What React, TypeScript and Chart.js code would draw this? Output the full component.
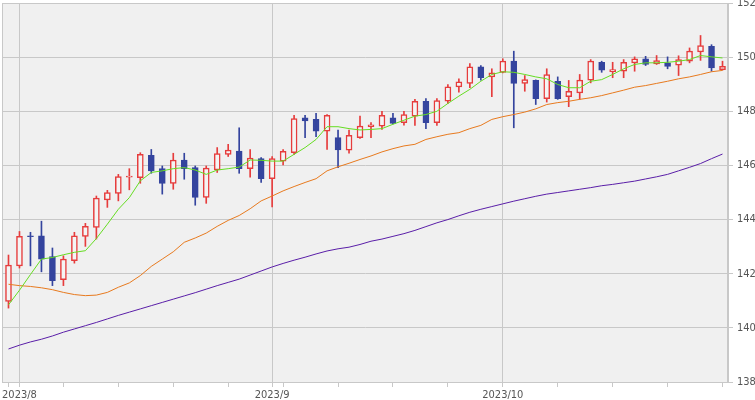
import React, { useEffect, useRef } from "react";
import Chart from "chart.js/auto";

// trading days, 2023/7/31 - 2023/10/30
const dates: string[] = [
  "2023-07-31",
  "2023-08-01", "2023-08-02", "2023-08-03", "2023-08-04",
  "2023-08-07", "2023-08-08", "2023-08-09", "2023-08-10", "2023-08-11",
  "2023-08-14", "2023-08-15", "2023-08-16", "2023-08-17", "2023-08-18",
  "2023-08-21", "2023-08-22", "2023-08-23", "2023-08-24", "2023-08-25",
  "2023-08-28", "2023-08-29", "2023-08-30", "2023-08-31",
  "2023-09-01",
  "2023-09-04", "2023-09-05", "2023-09-06", "2023-09-07", "2023-09-08",
  "2023-09-11", "2023-09-12", "2023-09-13", "2023-09-14", "2023-09-15",
  "2023-09-18", "2023-09-19", "2023-09-20", "2023-09-21", "2023-09-22",
  "2023-09-25", "2023-09-26", "2023-09-27", "2023-09-28", "2023-09-29",
  "2023-10-02", "2023-10-03", "2023-10-04", "2023-10-05", "2023-10-06",
  "2023-10-09", "2023-10-10", "2023-10-11", "2023-10-12", "2023-10-13",
  "2023-10-16", "2023-10-17", "2023-10-18", "2023-10-19", "2023-10-20",
  "2023-10-23", "2023-10-24", "2023-10-25", "2023-10-26", "2023-10-27",
  "2023-10-30",
];

const opens: number[] = [
  140.98, 142.29, 143.40, 143.40, 142.63, 141.78, 142.48, 143.38, 143.71, 144.73,
  144.97, 145.57, 145.55, 146.37, 145.88, 145.34, 146.20, 145.92, 144.82, 145.83,
  146.41, 146.53, 145.88, 146.25, 145.51, 146.16, 146.47, 147.76, 147.70, 147.27,
  147.03, 146.56, 147.03, 147.43, 147.45, 147.76, 147.58, 147.82, 148.37, 147.58,
  148.37, 148.90, 149.03, 149.64, 149.27, 149.44, 149.85, 149.03, 149.14, 148.47,
  149.11, 148.54, 148.68, 149.15, 149.81, 149.46, 149.48, 149.79, 149.94, 149.75,
  149.79, 149.70, 149.85, 150.19, 150.40, 149.54,
];
const highs: number[] = [
  142.69, 143.56, 143.53, 143.94, 142.95, 142.66, 143.53, 143.86, 144.87, 145.08,
  145.67, 145.88, 146.47, 146.59, 145.98, 146.45, 146.45, 145.98, 145.98, 146.66,
  146.78, 147.39, 146.59, 146.29, 146.33, 146.59, 147.85, 147.85, 147.92, 147.88,
  147.31, 147.31, 147.82, 147.58, 148.00, 147.92, 148.00, 148.44, 148.47, 148.47,
  148.99, 149.20, 149.76, 149.69, 149.57, 149.94, 150.22, 149.32, 149.16, 149.57,
  149.27, 149.14, 149.36, 149.91, 149.85, 149.81, 149.91, 150.01, 150.03, 150.06,
  150.01, 150.05, 150.34, 150.80, 150.46, 149.85,
];
const lows: number[] = [
  140.73, 142.21, 142.29, 142.07, 141.56, 141.56, 142.39, 143.01, 143.28, 144.45,
  144.69, 145.10, 145.34, 145.71, 144.94, 145.12, 145.49, 144.53, 144.60, 145.74,
  146.33, 145.71, 145.57, 145.37, 144.47, 146.02, 146.41, 147.03, 147.06, 146.59,
  145.92, 146.45, 147.00, 147.03, 147.33, 147.53, 147.49, 147.48, 147.36, 147.48,
  148.29, 148.71, 148.87, 149.15, 148.54, 149.42, 147.39, 148.74, 148.25, 148.34,
  148.44, 148.17, 148.44, 149.05, 149.44, 149.24, 149.24, 149.48, 149.69, 149.73,
  149.57, 149.32, 149.79, 149.88, 149.48, 149.52,
];
const closes: number[] = [
  142.32, 143.38, 143.37, 142.54, 141.74, 142.54, 143.40, 143.75, 144.79, 145.00,
  145.59, 145.61, 146.41, 145.80, 145.34, 146.20, 145.88, 144.82, 145.90, 146.44,
  146.57, 145.88, 146.27, 145.51, 146.25, 146.52, 147.73, 147.64, 147.27, 147.85,
  146.57, 147.11, 147.45, 147.50, 147.85, 147.55, 147.88, 148.37, 147.58, 148.40,
  148.90, 149.09, 149.64, 149.24, 149.42, 149.85, 149.03, 149.17, 148.47, 149.36,
  148.47, 148.74, 149.15, 149.85, 149.52, 149.54, 149.81, 149.94, 149.73, 149.87,
  149.66, 149.91, 150.22, 150.43, 149.60, 149.66,
];

// moving averages
const ma5: number[] = [
  140.85, 141.39, 141.97, 142.54, 142.60, 142.70, 142.79, 142.85, 143.30, 143.83,
  144.38, 144.81, 145.43, 145.74, 145.80, 145.88, 145.92, 145.83, 145.67, 145.83,
  145.88, 145.94, 146.20, 146.19, 146.16, 146.16, 146.41, 146.66, 146.96, 147.43,
  147.43, 147.36, 147.31, 147.33, 147.36, 147.52, 147.67, 147.82, 147.88, 148.00,
  148.29, 148.56, 148.81, 149.11, 149.36, 149.46, 149.44, 149.36, 149.27, 149.20,
  148.99, 148.87, 148.87, 149.11, 149.17, 149.36, 149.57, 149.73, 149.79, 149.79,
  149.81, 149.85, 149.91, 150.06, 150.01, 149.97,
];
const ma25: number[] = [
  141.61, 141.56, 141.53, 141.48, 141.41, 141.31, 141.23, 141.19, 141.21, 141.31,
  141.50, 141.66, 141.93, 142.27, 142.54, 142.81, 143.16, 143.32, 143.50, 143.75,
  143.97, 144.15, 144.40, 144.69, 144.87, 145.06, 145.22, 145.37, 145.51, 145.80,
  145.95, 146.08, 146.22, 146.35, 146.50, 146.62, 146.72, 146.78, 146.96, 147.06,
  147.15, 147.21, 147.36, 147.48, 147.70, 147.80, 147.88, 147.97, 148.09, 148.25,
  148.32, 148.37, 148.44, 148.50, 148.58, 148.68, 148.78, 148.89, 148.95, 149.03,
  149.11, 149.20, 149.27, 149.36, 149.46, 149.51,
];
const ma75: number[] = [
  139.22, 139.36, 139.48, 139.58, 139.70, 139.84, 139.96, 140.08, 140.20, 140.33,
  140.46, 140.58, 140.70, 140.82, 140.94, 141.06, 141.18, 141.30, 141.43, 141.56,
  141.68, 141.80, 141.95, 142.10, 142.25, 142.38, 142.50, 142.61, 142.73, 142.84,
  142.92, 142.98, 143.08, 143.20, 143.28, 143.38, 143.48, 143.60, 143.74, 143.88,
  144.00, 144.14, 144.27, 144.38, 144.48, 144.58, 144.68, 144.77, 144.86, 144.94,
  145.00, 145.06, 145.12, 145.18, 145.25, 145.30, 145.36, 145.42, 145.50, 145.58,
  145.67, 145.80, 145.93, 146.07, 146.25, 146.42,
];

const UP = "#e63c3c";
const DOWN = "#34449e";
const GRID = "#c8c8c8";
const FONT = "'DejaVu Sans Condensed', 'Liberation Sans Narrow', 'DejaVu Sans', sans-serif";

const parsed = dates.map((d) => new Date(d + "T00:00:00"));
const monthStart = parsed.map((d, i) => i > 0 && d.getMonth() !== parsed[i - 1].getMonth());
const monday = parsed.map((d) => d.getDay() === 1);

const plotBg = {
  id: "plotBg",
  beforeDraw(chart: any) {
    const { ctx, chartArea: a } = chart;
    ctx.save();
    ctx.fillStyle = "#f0f0f0";
    ctx.fillRect(a.left, a.top, a.right - a.left, a.bottom - a.top);
    ctx.strokeStyle = GRID;
    ctx.lineWidth = 1;
    ctx.strokeRect(a.left - 0.5, a.top + 0.5, a.right - a.left, a.bottom - a.top);
    ctx.restore();
  },
};

const CandleChart: React.FC = () => {
  const chartRef = useRef<HTMLCanvasElement | null>(null);
  const chartInstance = useRef<Chart | null>(null);

  useEffect(() => {
    document.body.style.margin = "0";
    if (!chartRef.current) return;
    if (chartInstance.current) chartInstance.current.destroy();

    const isUp = closes.map((c, i) => c >= opens[i]);

    chartInstance.current = new Chart(chartRef.current, {
      type: "bar",
      data: {
        labels: dates,
        datasets: [
          {
            type: "line",
            data: ma5,
            borderColor: "#66dd22",
            borderWidth: 1,
            pointRadius: 0,
            order: 0,
          },
          {
            type: "line",
            data: ma25,
            borderColor: "#e87a1e",
            borderWidth: 1,
            pointRadius: 0,
            order: 0,
          },
          {
            type: "line",
            data: ma75,
            borderColor: "#5a1ea8",
            borderWidth: 1,
            pointRadius: 0,
            order: 0,
          },
          {
            // bodies
            data: opens.map((o, i) => [o, closes[i]]) as any,
            backgroundColor: isUp.map((u) => (u ? "#f4f4f4" : DOWN)),
            borderColor: isUp.map((u) => (u ? UP : DOWN)),
            borderWidth: 1.5,
            borderSkipped: false,
            barThickness: 6,
            grouped: false,
            order: 1,
          },
          {
            // wicks
            data: lows.map((l, i) => [l, highs[i]]) as any,
            backgroundColor: isUp.map((u) => (u ? UP : DOWN)),
            borderWidth: 0,
            barThickness: 1,
            grouped: false,
            order: 2,
          },
        ],
      },
      options: {
        responsive: false,
        animation: false,
        layout: { padding: { left: 3, top: 3 } },
        plugins: {
          legend: { display: false },
          tooltip: { enabled: false },
        },
        scales: {
          x: {
            offset: true,
            grid: {
              offset: false,
              color: (c: any) => (monthStart[c.index] ? GRID : "rgba(0,0,0,0)"),
              tickColor: (c: any) =>
                monthStart[c.index] || monday[c.index] ? GRID : "rgba(0,0,0,0)",
              tickLength: 5,
            },
            border: { color: GRID },
            ticks: {
              autoSkip: false,
              maxRotation: 0,
              padding: 2,
              color: "#555",
              font: { family: FONT, size: 11 },
              callback: (_v: any, i: number) =>
                monthStart[i]
                  ? `${parsed[i].getFullYear()}/${parsed[i].getMonth() + 1}`
                  : "",
            },
            afterFit: (s: any) => {
              s.height = 18;
              s.paddingLeft = 0;
              s.paddingRight = 0;
            },
          },
          y: {
            position: "right",
            min: 138,
            max: 152,
            grid: { color: GRID, tickLength: 5 },
            border: { color: GRID },
            ticks: {
              stepSize: 2,
              padding: 4,
              color: "#555",
              font: { family: FONT, size: 11 },
            },
            afterFit: (s: any) => {
              s.width = 27;
              s.paddingTop = 0;
              s.paddingBottom = 0;
            },
          },
        },
      },
      plugins: [plotBg],
    });

    return () => {
      if (chartInstance.current) {
        chartInstance.current.destroy();
        chartInstance.current = null;
      }
    };
  }, []);

  return (
    <div style={{ width: 755, height: 400 }}>
      <canvas ref={chartRef} width={755} height={400} />
    </div>
  );
};

export default function App() {
  return <CandleChart />;
}
